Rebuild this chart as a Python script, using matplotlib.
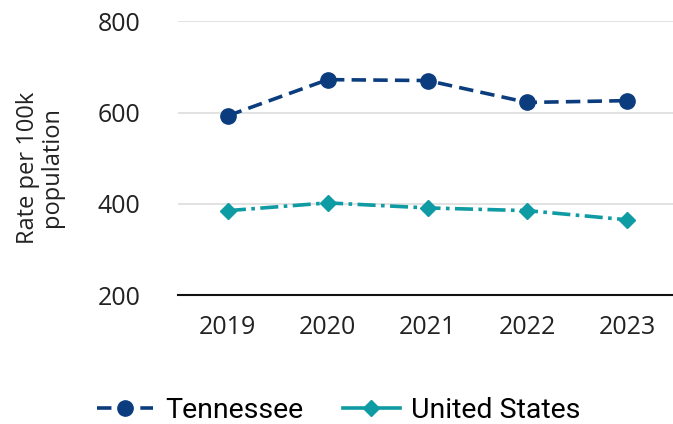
import matplotlib
matplotlib.use("Agg")
import matplotlib.pyplot as plt
from matplotlib.lines import Line2D

years = ["2019", "2020", "2021", "2022", "2023"]
tennessee = [593, 672, 670, 622, 626]
united_states = [385, 402, 391, 385, 365]
yticks = [200, 400, 600, 800]

navy = "#0b3d7e"
teal = "#0e9ba3"

plt.rcParams["font.family"] = ["Open Sans", "DejaVu Sans"]

fig = plt.figure(figsize=(6.73, 4.24), dpi=100)
ax = fig.add_axes([0.2645, 0.304, 0.7355, 0.646])

x = range(len(years))
ax.plot(x, tennessee, color=navy, lw=2.6, ls=(0, (4, 2)), marker="o",
        ms=11, label="Tennessee", zorder=3)
ax.plot(x, united_states, color=teal, lw=2.6, ls=(0, (5, 1.5, 1, 1.5)), marker="D",
        ms=8, label="United States", zorder=3)

ax.set_xlim(-0.5, 4.46)
ax.set_ylim(200, 800)
ax.set_yticks(yticks)
ax.set_xticks(list(x))
ax.set_xticklabels(years)
ax.tick_params(axis="both", length=0, labelsize=18, colors="#222222")
ax.tick_params(axis="x", pad=14)
ax.tick_params(axis="y", pad=27)
ax.grid(axis="y", color="#dddddd", lw=1.2)
ax.set_axisbelow(True)
for s in ["top", "right", "left"]:
    ax.spines[s].set_visible(False)
ax.spines["bottom"].set_color("#111111")
ax.spines["bottom"].set_linewidth(1.5)

fig.text(0.06, 0.605, "Rate per 100k\npopulation", rotation=90, ha="center",
         va="center", fontsize=17, color="#222222", linespacing=1.0)

handles = [
    Line2D([], [], color=navy, lw=2.6, ls=(0, (4, 2)), marker="o", ms=11),
    Line2D([], [], color=teal, lw=2.6, marker="D", ms=8),
]
fig.legend(handles, ["Tennessee", "United States"], loc="center",
           bbox_to_anchor=(0.503, 0.033), ncol=2, frameon=False,
           prop={"family": "Roboto", "size": 20.5},
           handlelength=2.0, columnspacing=1.4, handletextpad=0.4)

fig.savefig("out.png", dpi=100)
